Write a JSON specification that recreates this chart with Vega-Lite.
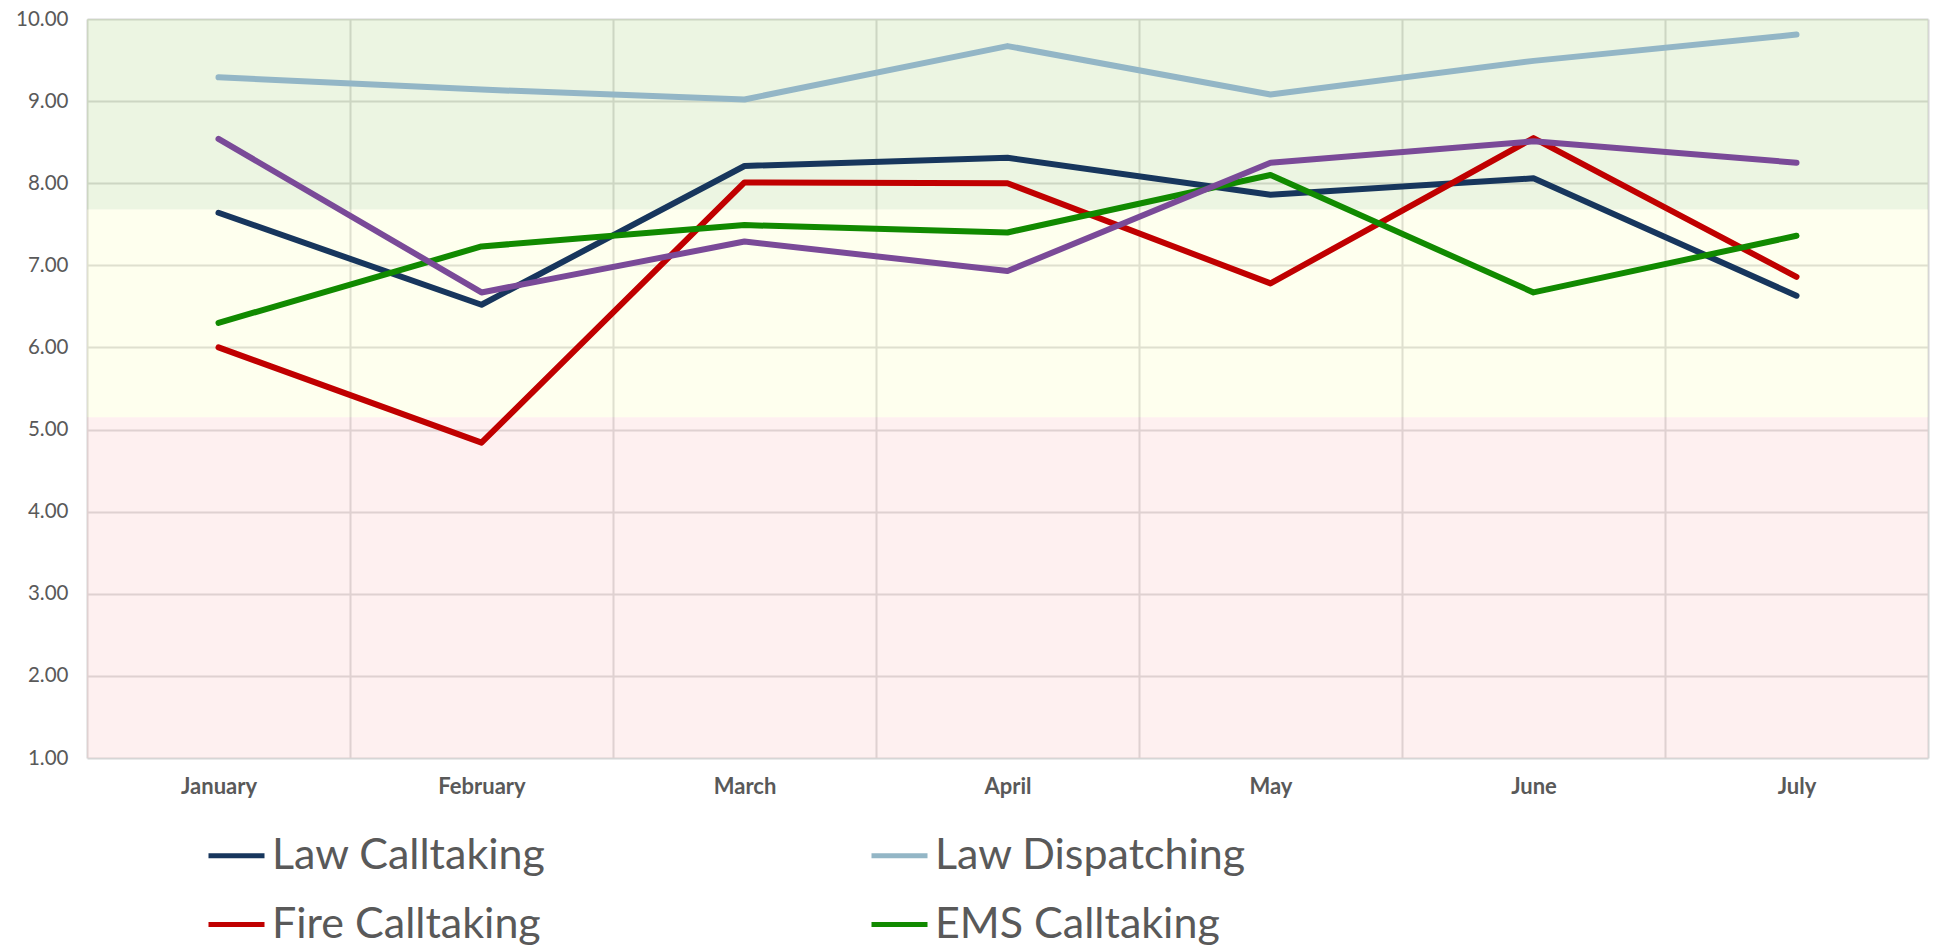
{
  "$schema": "https://vega.github.io/schema/vega-lite/v6.json",
  "width": 1841,
  "height": 739,
  "autosize": {"type": "none"},
  "padding": {"left": 87, "top": 19, "right": 9, "bottom": 190},
  "background": "white",
  "config": {"view": {"stroke": null}, "font": "Lato"},
  "datasets": {
    "bands": [
      {"zone": "good", "lo": 7.68, "hi": 10},
      {"zone": "fair", "lo": 5.15, "hi": 7.68},
      {"zone": "poor", "lo": 1, "hi": 5.15}
    ],
    "scores": [
      {"month": "January", "series": "Law Calltaking", "score": 7.64},
      {"month": "February", "series": "Law Calltaking", "score": 6.52},
      {"month": "March", "series": "Law Calltaking", "score": 8.21},
      {"month": "April", "series": "Law Calltaking", "score": 8.31},
      {"month": "May", "series": "Law Calltaking", "score": 7.86},
      {"month": "June", "series": "Law Calltaking", "score": 8.06},
      {"month": "July", "series": "Law Calltaking", "score": 6.63},
      {"month": "January", "series": "Law Dispatching", "score": 9.29},
      {"month": "February", "series": "Law Dispatching", "score": 9.14},
      {"month": "March", "series": "Law Dispatching", "score": 9.02},
      {"month": "April", "series": "Law Dispatching", "score": 9.67},
      {"month": "May", "series": "Law Dispatching", "score": 9.08},
      {"month": "June", "series": "Law Dispatching", "score": 9.49},
      {"month": "July", "series": "Law Dispatching", "score": 9.81},
      {"month": "January", "series": "Fire Calltaking", "score": 6.0},
      {"month": "February", "series": "Fire Calltaking", "score": 4.84},
      {"month": "March", "series": "Fire Calltaking", "score": 8.01},
      {"month": "April", "series": "Fire Calltaking", "score": 8.0},
      {"month": "May", "series": "Fire Calltaking", "score": 6.78},
      {"month": "June", "series": "Fire Calltaking", "score": 8.55},
      {"month": "July", "series": "Fire Calltaking", "score": 6.86},
      {"month": "January", "series": "EMS Calltaking", "score": 6.3},
      {"month": "February", "series": "EMS Calltaking", "score": 7.23},
      {"month": "March", "series": "EMS Calltaking", "score": 7.49},
      {"month": "April", "series": "EMS Calltaking", "score": 7.4},
      {"month": "May", "series": "EMS Calltaking", "score": 8.1},
      {"month": "June", "series": "EMS Calltaking", "score": 6.67},
      {"month": "July", "series": "EMS Calltaking", "score": 7.36},
      {"month": "January", "series": "Fire Dispatching", "score": 8.54},
      {"month": "February", "series": "Fire Dispatching", "score": 6.67},
      {"month": "March", "series": "Fire Dispatching", "score": 7.29},
      {"month": "April", "series": "Fire Dispatching", "score": 6.93},
      {"month": "May", "series": "Fire Dispatching", "score": 8.25},
      {"month": "June", "series": "Fire Dispatching", "score": 8.51},
      {"month": "July", "series": "Fire Dispatching", "score": 8.25}
    ]
  },
  "layer": [
    {
      "data": {"name": "bands"},
      "mark": {"type": "rect", "opacity": 0.24},
      "encoding": {
        "y": {
          "field": "lo", "type": "quantitative", "title": null,
          "scale": {"domain": [1, 10], "nice": false, "zero": false},
          "axis": {"title": null, "values": [1, 2, 3, 4, 5, 6, 7, 8, 9, 10], "format": ".2f", "labelFont": "Lato", "labelFontSize": 20.5, "labelColor": "#595959", "labelPadding": 19, "ticks": false, "tickSize": 0, "domain": false, "grid": true, "gridColor": "#D6D6D6", "gridWidth": 2}
        },
        "y2": {"field": "hi"},
        "color": {
          "field": "zone", "type": "nominal",
          "scale": {"domain": ["good", "fair", "poor"], "range": ["#B0D586", "#FBFFB9", "#FBC0C0"]},
          "legend": null
        }
      }
    },
    {
      "data": {"name": "scores"},
      "mark": {"type": "line", "strokeWidth": 6, "strokeCap": "round", "strokeJoin": "round"},
      "encoding": {
        "x": {
          "field": "month", "type": "ordinal",
          "sort": ["January", "February", "March", "April", "May", "June", "July"],
          "scale": {"paddingInner": 0, "paddingOuter": 0},
          "axis": {"title": null, "labelAngle": 0, "labelFont": "Lato", "labelFontWeight": "bold", "labelFontSize": 22, "labelColor": "#595959", "labelPadding": 18, "ticks": false, "domain": false, "grid": true, "tickBand": "extent", "gridColor": "#D6D6D6", "gridWidth": 2}
        },
        "y": {
          "field": "score", "type": "quantitative", "title": null,
          "scale": {"domain": [1, 10], "nice": false, "zero": false},
          "axis": {"title": null, "values": [1, 2, 3, 4, 5, 6, 7, 8, 9, 10], "format": ".2f", "labelFont": "Lato", "labelFontSize": 20.5, "labelColor": "#595959", "labelPadding": 19, "ticks": false, "tickSize": 0, "domain": false, "grid": true, "gridColor": "#D6D6D6", "gridWidth": 2}
        },
        "color": {
          "field": "series", "type": "nominal",
          "scale": {
            "domain": ["Law Calltaking", "Law Dispatching", "Fire Calltaking", "EMS Calltaking", "Fire Dispatching"],
            "range": ["#17365D", "#93B6C6", "#C00000", "#118A00", "#7A4A98"]
          },
          "legend": {
            "values": ["Law Calltaking", "Law Dispatching", "Fire Calltaking", "EMS Calltaking"],
            "orient": "none", "legendX": 119, "legendY": 806,
            "columns": 2, "direction": "horizontal", "title": null,
            "symbolType": "stroke", "symbolSize": 3136, "symbolStrokeWidth": 5,
            "labelFont": "Lato", "labelFontSize": 43, "labelColor": "#595959",
            "labelOffset": 5, "labelLimit": 0, "columnPadding": 315, "rowPadding": 16
          }
        }
      }
    }
  ],
  "resolve": {"scale": {"color": "independent"}}
}
